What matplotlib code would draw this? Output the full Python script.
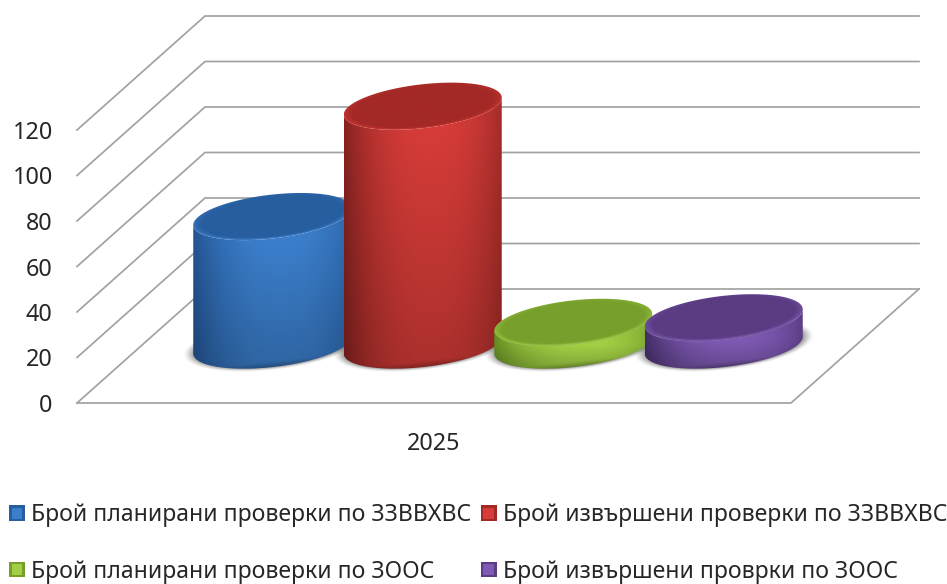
import numpy as np
import matplotlib
matplotlib.use("Agg")
import matplotlib.pyplot as plt
from matplotlib.patches import Polygon, Rectangle
from matplotlib.legend_handler import HandlerBase

# ---- data -------------------------------------------------------------
categories = ["2025"]
series_names = ["Брой планирани проверки по ЗЗВВХВС",
                "Брой извършени проверки по ЗЗВВХВС",
                "Брой планирани проверки по ЗООС",
                "Брой извършени проврки по ЗООС"]
series_values = [56.5, 105, 10, 12]
y_ticks = [0, 20, 40, 60, 80, 100, 120]
# colours: shade edge, highlight, top face centre, top face rim
edge_colors = ["#235391", "#842220", "#638a22", "#432d66"]
bright_colors = ["#3b7fcc", "#d63c38", "#a2d045", "#7f5ab4"]
top_colors = ["#275e9f", "#a32926", "#779f2c", "#5a3c83"]
rim_colors = ["#3c7cc8", "#cc3733", "#a0cc42", "#7b57ad"]

W, H = 947, 584
plt.rcParams["font.family"] = ["Noto Sans", "DejaVu Sans"]
fig = plt.figure(figsize=(W / 100, H / 100), dpi=100, facecolor="white")
# plot box = front of the 3-D floor/wall
L, R, T, B = 77, 791, 130, 403
ax = fig.add_axes([L / W, 1 - B / H, (R - L) / W, (B - T) / H])
ax.set_xlim(-0.5, 0.5)
ax.set_ylim(0, 120)
ax.set_autoscale_on(False)
for s in ax.spines.values():
    s.set_visible(False)
ax.patch.set_visible(False)

UX = R - L           # px per x unit
UY = (B - T) / 120   # px per value unit
DX, DY = 128 / UX, 114 / UY   # depth vector
grid_c = "#a2a2a2"
for v in y_ticks:
    ax.plot([-0.5, -0.5 + DX, 0.5 + DX], [v, v + DY, v + DY], color=grid_c, lw=1.25,
            clip_on=False, zorder=0.5, solid_joinstyle="miter")
ax.plot([-0.5, 0.5, 0.5 + DX], [0, 0, DY], color=grid_c, lw=1.25, clip_on=False, zorder=0.5)

ax.set_yticks(y_ticks)
ax.set_yticklabels([str(v) for v in y_ticks])
ax.set_xticks([0])
ax.set_xticklabels(categories)
ax.tick_params(axis="y", length=0, pad=17.5, labelsize=16.8, labelcolor="#262626")
ax.tick_params(axis="x", length=0, pad=21, labelsize=16.8, labelcolor="#262626")

# ---- cylinders --------------------------------------------------------
STEP = 150.5 / UX
A = 79 / UX
EB = 22 / UY    # minor half-height
EK = 8.5 / UY   # tilt
BASE = DY / 2 + 0.4


def hex2rgb(c):
    return np.array(matplotlib.colors.to_rgb(c))


def outline(cx, v, t):
    return np.column_stack([cx + A * np.cos(t), v - EB * np.sin(t) + EK * np.cos(t)])


for i, val in enumerate(series_values):
    cx = (i - 1.5) * STEP + DX / 2
    v0, v1 = BASE, BASE + val
    z = 2 + i * 0.1
    # soft floor shadow
    xs = np.linspace(cx - 1.3 * A, cx + 1.3 * A, 220)
    ys = np.linspace(v0 - 1.5 * (EB + EK), v0 + 1.5 * (EB + EK), 120)
    X, Y = np.meshgrid(xs, ys)
    u = (X - cx) / A
    w = (Y - v0 - EK * u) / EB
    r = np.hypot(u * 0.98, w * 0.98)
    alpha = np.clip((1.12 - r) / 0.14, 0, 1) ** 1.5 * 0.55
    rgba = np.zeros(X.shape + (4,))
    rgba[..., :3] = 0.28
    rgba[..., 3] = alpha
    im = ax.imshow(rgba, extent=(xs[0], xs[-1], ys[0], ys[-1]), origin="lower",
                   aspect="auto", zorder=1, interpolation="bilinear")
    im.set_clip_box(fig.bbox)

    # body: horizontal gradient
    th_low = np.linspace(0, np.pi, 80)
    th_up = np.linspace(np.pi, 0, 80)
    pts = np.vstack([outline(cx, v0, th_low), outline(cx, v1, th_up)])
    body = Polygon(pts, closed=True, transform=ax.transData, fc="none", ec="none")
    ax.add_patch(body)
    body.set_clip_on(False)
    xs = np.linspace(cx - A, cx + A, 200)
    ys = np.linspace(v0 - EB - EK, v1 + EB + EK, 160)
    X, Y = np.meshgrid(xs, ys)
    u = (X - cx) / A
    f = 1 - np.clip(np.abs(u - 0.1) / 1.1, 0, 1) ** 2.4
    f = f[..., None]
    img = hex2rgb(edge_colors[i]) * (1 - f) + hex2rgb(bright_colors[i]) * f
    # fade slightly toward the bottom
    fr = np.clip((v1 - EB - Y) / max(v1 - v0, 1e-6), 0, 1)[..., None]
    img = img * (1 - 0.2 * fr)
    # darker lower edge
    w0 = (Y - v0 - EK * u) / EB
    low = np.clip((-w0 - 0.75) / 0.25, 0, 1)[..., None]
    img = img * (1 - 0.25 * low)
    im = ax.imshow(np.clip(img, 0, 1), extent=(xs[0], xs[-1], ys[0], ys[-1]), origin="lower",
                   aspect="auto", zorder=z, interpolation="bilinear")
    im.set_clip_box(fig.bbox)
    im.set_clip_path(body)

    # top face
    th = np.linspace(0, 2 * np.pi, 160)
    top = Polygon(outline(cx, v1, th), closed=True, transform=ax.transData, fc="none", ec="none")
    ax.add_patch(top)
    top.set_clip_on(False)
    ys = np.linspace(v1 - EB - EK, v1 + EB + EK, 120)
    X, Y = np.meshgrid(xs, ys)
    u = (X - cx) / A
    w = (Y - v1 - EK * u) / EB
    r = np.hypot(u, w)
    # rim is wide on the front side, thin on the back
    rim = np.clip((r - 0.9) / 0.1, 0, 1) * np.clip(0.6 - 0.45 * w, 0.1, 1)
    rim = rim[..., None]
    img = hex2rgb(top_colors[i]) * (1 - rim) + hex2rgb(rim_colors[i]) * rim
    im = ax.imshow(np.clip(img, 0, 1), extent=(xs[0], xs[-1], ys[0], ys[-1]), origin="lower",
                   aspect="auto", zorder=z, interpolation="bilinear")
    im.set_clip_box(fig.bbox)
    im.set_clip_path(top)


# ---- legend -----------------------------------------------------------
class SquareHandler(HandlerBase):
    def create_artists(self, legend, orig, xd, yd, width, height, fontsize, trans):
        outer = Rectangle((-xd, -yd), width, height, fc=orig.get_edgecolor(), ec="none", transform=trans)
        m = width * 0.16
        inner = Rectangle((-xd + m, -yd + m), width - 2 * m, height - 2 * m,
                          fc=orig.get_facecolor(), ec="none", transform=trans)
        return [outer, inner]


handles = [Rectangle((0, 0), 1, 1, fc=bright_colors[i], ec=top_colors[i]) for i in range(4)]
order = [0, 2, 1, 3]   # columns fill first
FS = 16.55
leg = fig.legend([handles[i] for i in order], [series_names[i] for i in order],
                 ncol=2, loc="lower left", bbox_to_anchor=(9 / W, 1 - 583.5 / H),
                 bbox_transform=fig.transFigure, frameon=False, fontsize=FS,
                 borderpad=0, borderaxespad=0, handlelength=0.68, handleheight=0.68,
                 handletextpad=0.27, columnspacing=0.43, labelspacing=1.40,
                 labelcolor="#262626",
                 handler_map={Rectangle: SquareHandler()})

fig.savefig("out.png", dpi=100, facecolor="white")
